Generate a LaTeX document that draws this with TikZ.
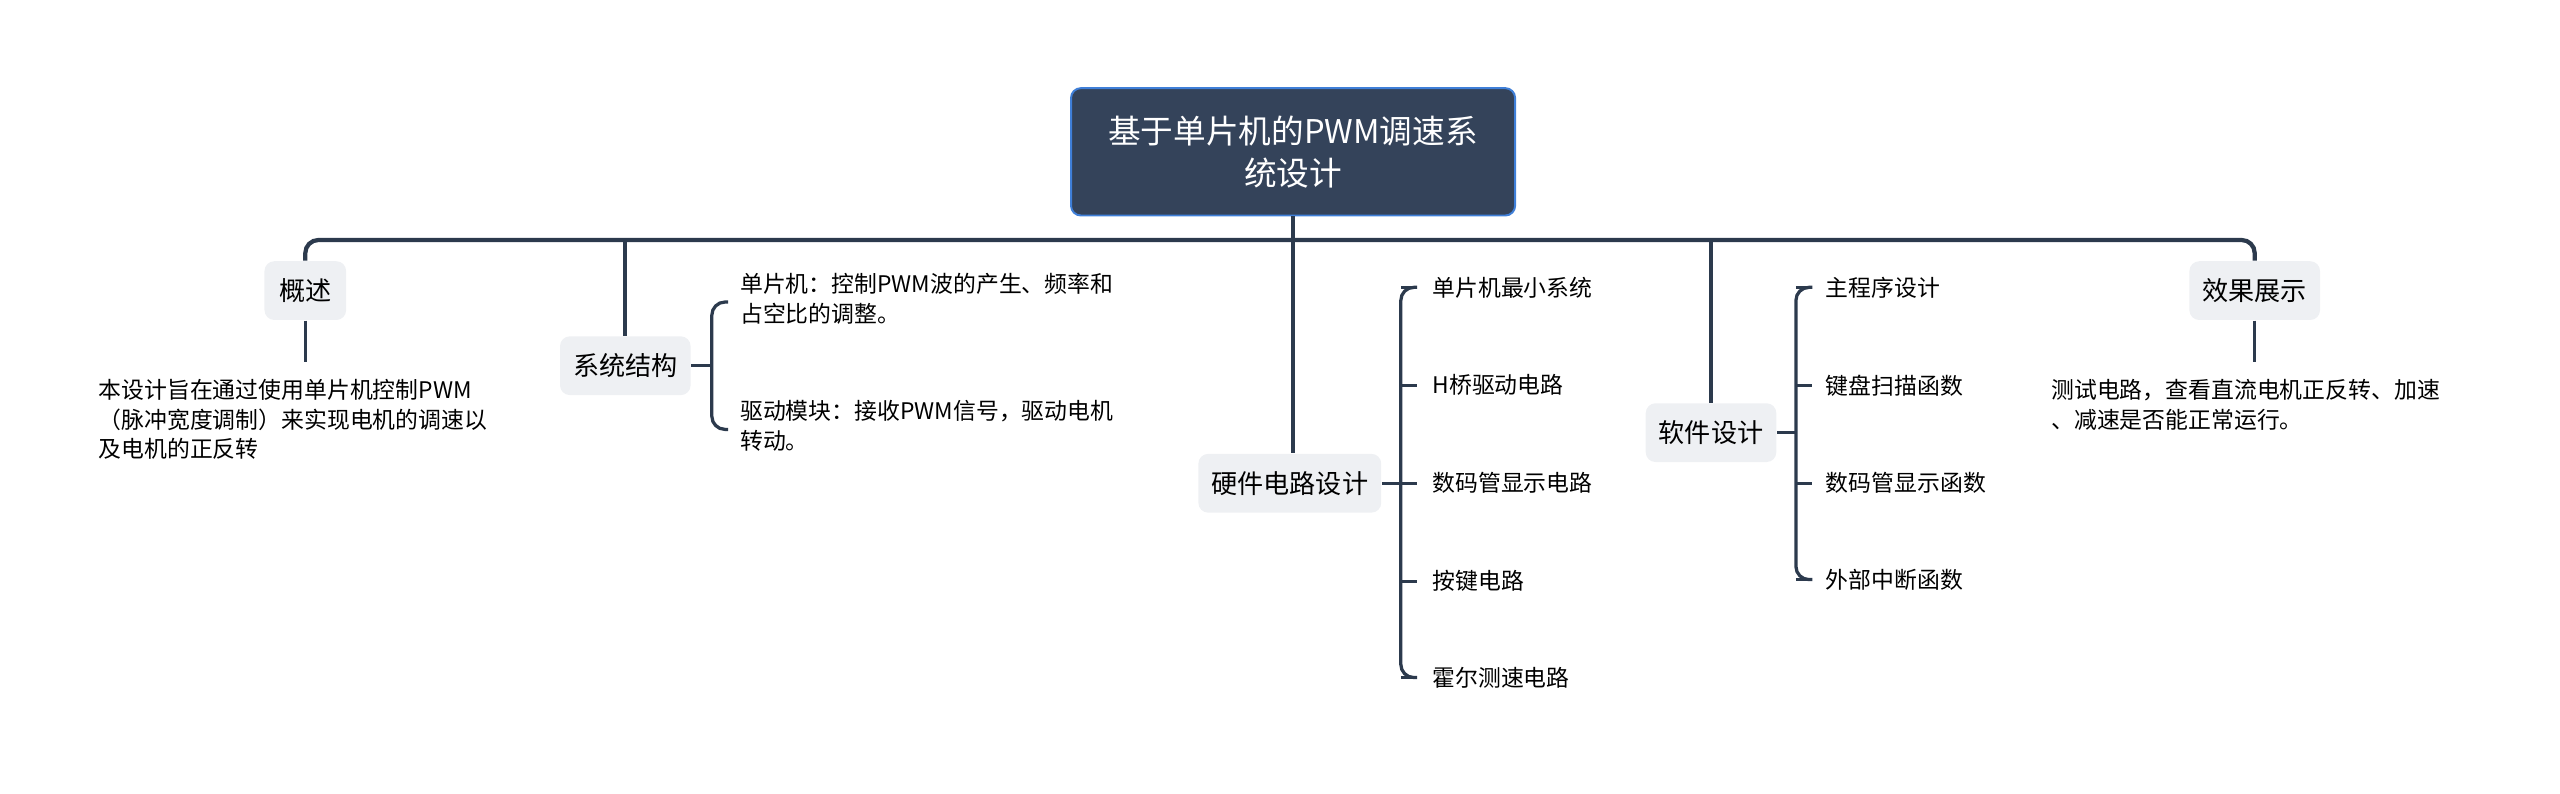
\documentclass[tikz,border=0pt]{standalone}
\usepackage{fontspec}
\setmainfont{Noto Sans CJK SC}
\begin{document}
\begin{tikzpicture}[x=0.5pt,y=-0.5pt,
  ln/.style={draw=lc,line width=1.3pt,rounded corners=4pt},
  br/.style={draw=lc,line width=1pt,rounded corners=4pt},
  box/.style={fill=bx,rounded corners=3pt,font=\fontsize{8}{10}\selectfont,text=black},
  it/.style={anchor=west,font=\fontsize{7}{9}\selectfont,inner sep=0pt},
  tx/.style={anchor=north west,font=\fontsize{7}{9}\selectfont,align=left,inner sep=0pt}]
\definecolor{lc}{HTML}{2C3A4D}
\definecolor{bx}{HTML}{EEF0F3}
\definecolor{rt}{HTML}{34435A}
\definecolor{rb}{HTML}{3F7FD8}
\useasboundingbox (0,0) rectangle (1568,486);
\node[fill=rt,draw=rb,line width=0.6pt,rounded corners=3pt,minimum width=272\pgflinewidth,text=white,align=center,font=\fontsize{10}{13}\selectfont,minimum width=136pt,minimum height=39pt] (root) at (792,93) {基于单片机的PWM调速系\\统设计};
\node[box,minimum width=25pt,minimum height=18pt] (a) at (187,178) {概述};
\node[box,minimum width=40pt,minimum height=18pt] (b) at (383,224) {系统结构};
\node[box,minimum width=56pt,minimum height=18pt] (c) at (790,296) {硬件电路设计};
\node[box,minimum width=40pt,minimum height=18pt] (d) at (1048,265) {软件设计};
\node[box,minimum width=40pt,minimum height=18pt] (e) at (1381,178) {效果展示};
\coordinate (bl) at (187,147); \coordinate (brr) at (1381,147);
\draw[ln] (a.north) -- (bl) -- (brr) -- (e.north);
\draw[ln] (383,147) -- (b.north);
\draw[ln] (1048,147) -- (d.north);
\draw[ln] (root.south) -- (c.north -| root.south);
% 概述
\node[tx] (at) at (60,232) {本设计旨在通过使用单片机控制PWM\\（脉冲宽度调制）来实现电机的调速以\\及电机的正反转};
\draw[br] (a.south) -- (187,222);
\node[tx] (et) at (1256,232) {测试电路，查看直流电机正反转、加速\\、减速是否能正常运行。};
\draw[br] (e.south) -- (1381,222);
% 系统结构
\node[tx] (b1) at (453,167) {单片机：控制PWM波的产生、频率和\\占空比的调整。};
\node[tx] (b2) at (453,245) {驱动模块：接收PWM信号，驱动电机\\转动。};
\draw[br] (b.east) -- (436,224);
\draw[br] (446,185) -- (436,185) -- (436,263) -- (446,263);
% 硬件
\draw[br] (c.east) -- (858,296);
\draw[br] (868,176) -- (858,176) -- (858,415) -- (868,415);
\foreach \y/\n/\t in {176/c1/单片机最小系统,236/c2/H桥驱动电路,296/c3/数码管显示电路,356/c4/按键电路,415/c5/霍尔测速电路}{
  \node[it] (\n) at (877,\y) {\t};
  \draw[br] (858,\y) -- (868,\y);}
% 软件
\draw[br] (d.east) -- (1100,265);
\draw[br] (1110,176) -- (1100,176) -- (1100,355) -- (1110,355);
\foreach \y/\n/\t in {176/d1/主程序设计,236/d2/键盘扫描函数,296/d3/数码管显示函数,355/d4/外部中断函数}{
  \node[it] (\n) at (1118,\y) {\t};
  \draw[br] (1100,\y) -- (1110,\y);}
\end{tikzpicture}
\end{document}
